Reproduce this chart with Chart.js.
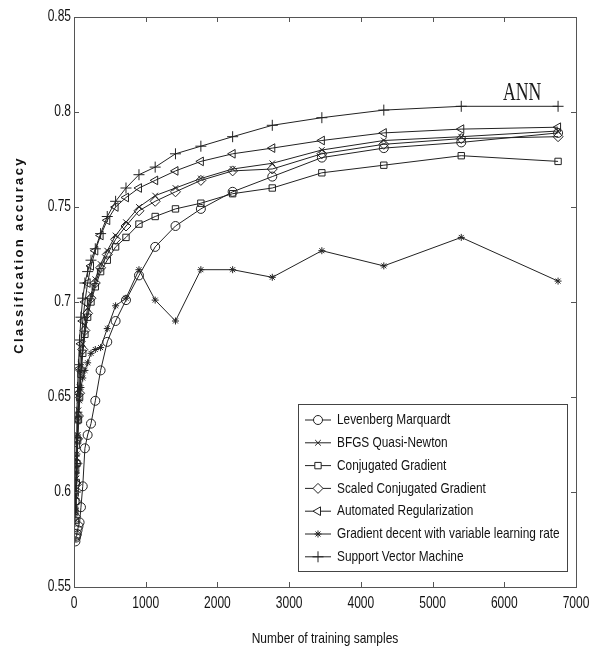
<!DOCTYPE html>
<html>
<head>
<meta charset="utf-8">
<title>Classification accuracy vs training samples</title>
<script src="https://cdn.jsdelivr.net/npm/chart.js@4.4.1/dist/chart.umd.min.js"></script>
<style>
    html, body { margin: 0; padding: 0; background: #fff; }
    #wrap { width: 599px; height: 654px; }
</style>
</head>
<body>
<div id="wrap"><canvas id="accuracy-chart" width="599" height="654"></canvas></div>
<script>
// Training set sizes shared by every method
const sampleCounts = [20, 26, 32, 40, 50, 62, 78, 97, 122, 152, 190, 237, 297, 371, 464, 580, 725, 906, 1132, 1415, 1769, 2212, 2765, 3456, 4320, 5400, 6750];

const levenbergMarquardt = [0.574, 0.576, 0.577, 0.578, 0.580, 0.582, 0.584, 0.592, 0.603, 0.623, 0.630, 0.636, 0.648, 0.664, 0.679, 0.690, 0.701, 0.714, 0.729, 0.740, 0.749, 0.758, 0.766, 0.776, 0.781, 0.784, 0.789];
const bfgsQuasiNewton = [0.590, 0.598, 0.607, 0.618, 0.630, 0.643, 0.655, 0.667, 0.678, 0.688, 0.697, 0.704, 0.712, 0.720, 0.727, 0.735, 0.742, 0.750, 0.756, 0.760, 0.765, 0.770, 0.773, 0.780, 0.785, 0.787, 0.790];
const conjugatedGradient = [0.585, 0.595, 0.605, 0.615, 0.627, 0.638, 0.650, 0.662, 0.673, 0.683, 0.692, 0.700, 0.708, 0.716, 0.722, 0.729, 0.734, 0.741, 0.745, 0.749, 0.752, 0.757, 0.760, 0.768, 0.772, 0.777, 0.774];
const scaledConjugated = [0.587, 0.595, 0.604, 0.615, 0.628, 0.640, 0.652, 0.664, 0.675, 0.685, 0.694, 0.702, 0.710, 0.718, 0.725, 0.733, 0.740, 0.748, 0.753, 0.758, 0.764, 0.769, 0.770, 0.778, 0.783, 0.786, 0.787];
const automatedRegularization = [0.590, 0.600, 0.612, 0.625, 0.638, 0.652, 0.665, 0.678, 0.690, 0.700, 0.710, 0.719, 0.727, 0.735, 0.743, 0.750, 0.755, 0.760, 0.764, 0.769, 0.774, 0.778, 0.781, 0.785, 0.789, 0.791, 0.792];
const gradientDescentVlr = [0.590, 0.600, 0.610, 0.620, 0.630, 0.640, 0.648, 0.655, 0.660, 0.664, 0.668, 0.673, 0.675, 0.676, 0.686, 0.698, 0.702, 0.717, 0.701, 0.690, 0.717, 0.717, 0.713, 0.727, 0.719, 0.734, 0.711];
const supportVectorMachine = [0.600, 0.615, 0.628, 0.642, 0.655, 0.667, 0.680, 0.692, 0.702, 0.710, 0.716, 0.722, 0.728, 0.736, 0.745, 0.753, 0.760, 0.767, 0.771, 0.778, 0.782, 0.787, 0.793, 0.797, 0.801, 0.803, 0.803];

const methodNames = [
    'Levenberg Marquardt',
    'BFGS Quasi-Newton',
    'Conjugated Gradient',
    'Scaled Conjugated Gradient',
    'Automated Regularization',
    'Gradient decent with variable learning rate',
    'Support Vector Machine'
];

const xTickValues = [0, 1000, 2000, 3000, 4000, 5000, 6000, 7000];
const xTickLabels = ['0', '1000', '2000', '3000', '4000', '5000', '6000', '7000'];
const yTickValues = [0.55, 0.6, 0.65, 0.7, 0.75, 0.8, 0.85];
const yTickLabels = ['0.55', '0.6', '0.65', '0.7', '0.75', '0.8', '0.85'];

const SANS = "'Liberation Sans', Arial, sans-serif";
const INK = '#222';

// narrow text: no condensed face is installed, so squeeze a regular one
function condensedText(ctx, text, x, y, squeeze, align) {
    ctx.save();
    ctx.translate(x, y);
    ctx.scale(squeeze, 1);
    ctx.textAlign = align || 'left';
    ctx.fillText(text, 0, 0);
    ctx.restore();
}

class AccuracyChart {
    constructor(canvasId) {
        this.canvas = document.getElementById(canvasId);
        this.markers = [
            { style: 'circle', radius: 4.5, rotation: 0 },
            { style: 'crossRot', radius: 4, rotation: 0 },
            { style: 'rect', radius: 4.5, rotation: 0 },
            { style: 'rectRot', radius: 5, rotation: 0 },
            { style: 'triangle', radius: 5, rotation: -90 },
            { style: 'star', radius: 3.5, rotation: 0 },
            { style: 'cross', radius: 5.5, rotation: 0 }
        ];
        this.series = [
            levenbergMarquardt,
            bfgsQuasiNewton,
            conjugatedGradient,
            scaledConjugated,
            automatedRegularization,
            gradientDescentVlr,
            supportVectorMachine
        ];
        this.chart = new Chart(this.canvas.getContext('2d'), this.buildConfig());
    }

    buildDatasets() {
        return this.series.map((values, i) => ({
            label: methodNames[i],
            data: sampleCounts.map((n, k) => ({ x: n, y: values[k] })),
            borderColor: INK,
            borderWidth: 1,
            pointStyle: this.markers[i].style,
            pointRadius: this.markers[i].radius,
            pointRotation: this.markers[i].rotation,
            pointBorderColor: INK,
            pointBorderWidth: 1,
            pointBackgroundColor: 'rgba(0,0,0,0)',
            tension: 0,
            fill: false
        }));
    }

    buildConfig() {
        return {
            type: 'line',
            data: { datasets: this.buildDatasets() },
            options: {
                responsive: false,
                animation: false,
                layout: { padding: { top: 17, right: 23, left: 0, bottom: 0 } },
                plugins: {
                    legend: { display: false },
                    tooltip: { enabled: false }
                },
                scales: {
                    x: {
                        type: 'linear',
                        min: 0,
                        max: 7000,
                        afterBuildTicks: (scale) => {
                            scale.ticks = xTickValues.map(v => ({ value: v }));
                        },
                        afterFit: (scale) => { scale.height = 67; },
                        grid: { display: false },
                        border: { display: false },
                        ticks: { display: false }
                    },
                    y: {
                        type: 'linear',
                        min: 0.55,
                        max: 0.85,
                        afterBuildTicks: (scale) => {
                            scale.ticks = yTickValues.map(v => ({ value: v }));
                        },
                        afterFit: (scale) => { scale.width = 74; },
                        grid: { display: false },
                        border: { display: false },
                        ticks: { display: false }
                    }
                }
            },
            plugins: [this.axesPlugin(), this.legendPlugin()]
        };
    }

    drawMarker(ctx, marker, x, y) {
        if (Chart.helpers && Chart.helpers.drawPoint) {
            Chart.helpers.drawPoint(ctx, {
                pointStyle: marker.style,
                radius: marker.radius,
                rotation: marker.rotation,
                borderWidth: 1
            }, x, y);
        }
    }

    axesPlugin() {
        return {
            id: 'matlabAxes',
            afterDraw(chart) {
                const { ctx, chartArea: area } = chart;
                const xs = chart.scales.x;
                const ys = chart.scales.y;

                ctx.save();
                // box with inward ticks on all four sides
                ctx.strokeStyle = '#555';
                ctx.lineWidth = 1;
                ctx.strokeRect(Math.round(area.left) + 0.5, Math.round(area.top) + 0.5,
                    Math.round(area.right - area.left), Math.round(area.bottom - area.top));
                ctx.beginPath();
                xTickValues.forEach(v => {
                    const px = Math.round(xs.getPixelForValue(v)) + 0.5;
                    ctx.moveTo(px, area.bottom); ctx.lineTo(px, area.bottom - 5);
                    ctx.moveTo(px, area.top); ctx.lineTo(px, area.top + 5);
                });
                yTickValues.forEach(v => {
                    const py = Math.round(ys.getPixelForValue(v)) + 0.5;
                    ctx.moveTo(area.left, py); ctx.lineTo(area.left + 5, py);
                    ctx.moveTo(area.right, py); ctx.lineTo(area.right - 5, py);
                });
                ctx.stroke();

                // tick labels
                ctx.fillStyle = '#111';
                ctx.font = `16px ${SANS}`;
                ctx.textBaseline = 'middle';
                yTickValues.forEach((v, i) => {
                    condensedText(ctx, yTickLabels[i], area.left - 3, ys.getPixelForValue(v), 0.75, 'right');
                });
                ctx.textBaseline = 'top';
                xTickValues.forEach((v, i) => {
                    condensedText(ctx, xTickLabels[i], xs.getPixelForValue(v), area.bottom + 9, 0.75, 'center');
                });

                // axis titles
                ctx.textBaseline = 'middle';
                ctx.font = `15px ${SANS}`;
                condensedText(ctx, 'Number of training samples', (area.left + area.right) / 2, 639, 0.8, 'center');

                ctx.save();
                ctx.translate(19, 255);
                ctx.rotate(-Math.PI / 2);
                ctx.font = `bold 13px ${SANS}`;
                ctx.letterSpacing = '2.3px';
                ctx.textAlign = 'center';
                ctx.fillText('Classification accuracy', 0, 0);
                ctx.restore();

                // ANN label near the top series
                ctx.save();
                ctx.translate(503, 100);
                ctx.scale(0.68, 1);
                ctx.fillStyle = '#1a1a1a';
                ctx.font = "26px 'Liberation Serif', 'Times New Roman', serif";
                ctx.textBaseline = 'alphabetic';
                ctx.fillText('ANN', 0, 0);
                ctx.restore();
                ctx.restore();
            }
        };
    }

    legendPlugin() {
        const self = this;
        return {
            id: 'boxLegend',
            afterDraw(chart) {
                const ctx = chart.ctx;
                const box = { x: 298, y: 404, w: 269, h: 167 };
                ctx.save();
                ctx.fillStyle = '#fff';
                ctx.fillRect(box.x, box.y, box.w, box.h);
                ctx.strokeStyle = '#444';
                ctx.lineWidth = 1;
                ctx.strokeRect(box.x + 0.5, box.y + 0.5, box.w, box.h);

                ctx.font = `15px ${SANS}`;
                ctx.textBaseline = 'middle';
                chart.data.datasets.forEach((ds, i) => {
                    const rowY = 420 + i * 22.8;
                    ctx.strokeStyle = INK;
                    ctx.beginPath();
                    ctx.moveTo(305, rowY);
                    ctx.lineTo(331, rowY);
                    ctx.stroke();
                    // hollow markers, same as in the plot
                    ctx.fillStyle = '#fff';
                    self.drawMarker(ctx, self.markers[i], 318, rowY);
                    ctx.fillStyle = '#111';
                    condensedText(ctx, ds.label, 337, rowY, 0.79, 'left');
                });
                ctx.restore();
            }
        };
    }
}

new AccuracyChart('accuracy-chart');
</script>
</body>
</html>
